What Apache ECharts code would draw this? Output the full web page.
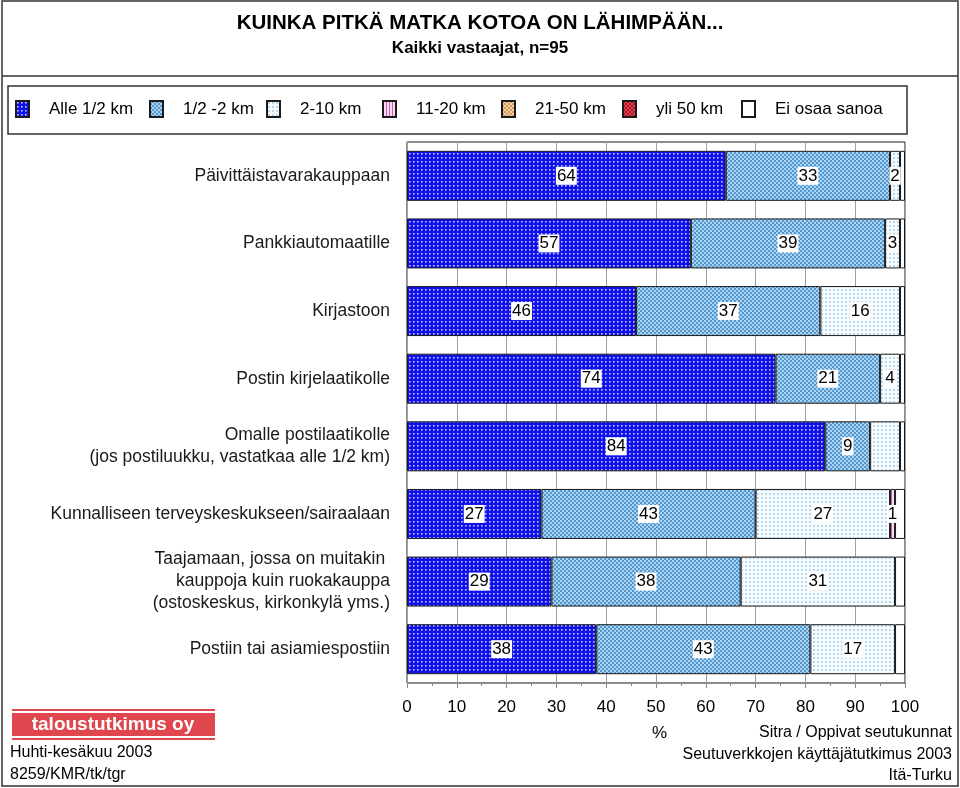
<!DOCTYPE html>
<html><head><meta charset="utf-8">
<script src="https://cdn.jsdelivr.net/npm/echarts@6/dist/echarts.min.js"></script>
<style>html,body{margin:0;padding:0;background:#fff}#c{width:960px;height:788px}</style>
</head><body><div id="c"></div>
<script>
// ---- data ----
const categories = [
  'Päivittäistavarakauppaan',
  'Pankkiautomaatille',
  'Kirjastoon',
  'Postin kirjelaatikolle',
  'Omalle postilaatikolle\n(jos postiluukku, vastatkaa alle 1/2 km)',
  'Kunnalliseen terveyskeskukseen/sairaalaan',
  'Taajamaan, jossa on muitakin \nkauppoja kuin ruokakauppa\n(ostoskeskus, kirkonkylä yms.)',
  'Postiin tai asiamiespostiin'
];
const seriesNames = ['Alle 1/2 km','1/2 -2 km','2-10 km','11-20 km','21-50 km','yli 50 km','Ei osaa sanoa'];
const alle05 = [64, 57, 46, 74, 84, 27, 29, 38];
const km05_2 = [33, 39, 37, 21, 9, 43, 38, 43];
const km2_10 = [2, 3, 16, 4, 6, 27, 31, 17];
const km11_20 = [0, 0, 0, 0, 0, 1, 0, 0];
const km21_50 = [0, 0, 0, 0, 0, 0, 0, 0];
const yli50 = [0, 0, 0, 0, 0, 0, 0, 0];
const eiOsaa = [1, 1, 1, 1, 1, 2, 2, 2];
const unlabeled = [[2, 4]]; // [series index, category index] shown without a value label
const xTicks = [0,10,20,30,40,50,60,70,80,90,100];

// ---- patterns ----
function tile(w, h, draw) {
  const c = document.createElement('canvas'); c.width = w; c.height = h;
  draw(c.getContext('2d')); return {image: c, repeat: 'repeat'};
}
const patterns = [
  tile(4,4,g=>{g.fillStyle='#1010ea';g.fillRect(0,0,4,4);g.fillStyle='#c0c4ff';g.fillRect(1,1,1.6,1.6);}),
  tile(4,4,g=>{g.fillStyle='#5596cc';g.fillRect(0,0,4,4);g.fillStyle='#a9d4f4';g.fillRect(0,0,2,2);g.fillRect(2,2,2,2);}),
  tile(4,4,g=>{g.fillStyle='#f6fbff';g.fillRect(0,0,4,4);g.fillStyle='#b9d6ea';g.fillRect(1,1,2,2);}),
  tile(3,1,g=>{g.fillStyle='#ffd6f4';g.fillRect(0,0,3,1);g.fillStyle='#b46cae';g.fillRect(0,0,1,1);}),
  tile(4,4,g=>{g.fillStyle='#f7d2a2';g.fillRect(0,0,4,4);g.fillStyle='#cf9a62';g.fillRect(0,0,2,2);g.fillRect(2,2,2,2);}),
  tile(4,4,g=>{g.fillStyle='#e8404c';g.fillRect(0,0,4,4);g.fillStyle='#a01828';g.fillRect(0,0,2,2);g.fillRect(2,2,2,2);}),
  '#ffffff'
];
const allData = [alle05, km05_2, km2_10, km11_20, km21_50, yli50, eiOsaa];
const F = 'Liberation Sans, Arial';

const series = allData.map((arr, si) => ({
  name: seriesNames[si],
  type: 'bar',
  stack: 'total',
  barWidth: 50,
  itemStyle: {color: patterns[si], borderColor: '#1a1a1a', borderWidth: 1},
  label: {
    show: si < 6,
    position: 'inside',
    color: '#000',
    fontFamily: F,
    fontSize: 17,
    backgroundColor: '#fff',
    padding: [1, 1, 0, 1]
  },
  data: arr.map((v, ci) => {
    if (!v) return '-';
    const hide = unlabeled.some(p => p[0] === si && p[1] === ci);
    return hide ? {value: v, label: {show: false}} : v;
  })
}));

const legendLeft = [15, 149, 266, 382, 501, 622, 741];
const legends = seriesNames.map((n, i) => ({
  data: [n], left: legendLeft[i], top: 100, padding: 0,
  itemWidth: 13, itemHeight: 16, icon: 'rect',
  textStyle: {fontSize: 17, color: '#000', fontFamily: F, padding: [0, 0, 0, 15]}
}));

const chart = echarts.init(document.getElementById('c'));
chart.setOption({
  animation: false,
  textStyle: {fontFamily: F},
  title: [
    {text: 'KUINKA PITKÄ MATKA KOTOA ON LÄHIMPÄÄN...', left: 'center', top: 8,
     textStyle: {fontSize: 20.5, fontWeight: 'bold', color: '#000', fontFamily: F}},
    {text: 'Kaikki vastaajat, n=95', left: 'center', top: 35,
     textStyle: {fontSize: 17, fontWeight: 'bold', color: '#000', fontFamily: F}}
  ],
  legend: legends,
  grid: {left: 407, right: 55, top: 142, bottom: 105, show: true, borderColor: '#1a1a1a', borderWidth: 1},
  xAxis: {
    type: 'value', min: 0, max: 100, interval: 10,
    axisLine: {show: false},
    axisTick: {show: true, length: 5, lineStyle: {color: '#888'}},
    minorTick: {show: true, splitNumber: 2, length: 3, lineStyle: {color: '#888'}},
    splitLine: {show: true, lineStyle: {color: '#a0a0a0', width: 1}},
    axisLabel: {fontSize: 17, color: '#000', margin: 16, fontFamily: F,
      formatter: v => xTicks.includes(v) ? String(v) : ''}
  },
  yAxis: {
    type: 'category', inverse: true, data: categories,
    axisLine: {show: false}, axisTick: {show: false},
    axisLabel: {fontSize: 17.5, color: '#1a1a1a', margin: 17, lineHeight: 22, fontFamily: F}
  },
  series: series,
  graphic: [
    {type: 'rect', shape: {x: 2, y: 1, width: 956, height: 785}, style: {fill: 'none', stroke: '#333', lineWidth: 1.5}, silent: true},
    {type: 'line', shape: {x1: 2, y1: 76, x2: 958, y2: 76}, style: {stroke: '#333', lineWidth: 1.5}},
    {type: 'rect', shape: {x: 8, y: 86, width: 899, height: 48}, style: {fill: 'none', stroke: '#333', lineWidth: 1.5}},
    {type: 'rect', shape: {x: 12, y: 709, width: 203, height: 2}, style: {fill: '#e0464e'}},
    {type: 'rect', shape: {x: 12, y: 713, width: 203, height: 23}, style: {fill: '#e0464e'}},
    {type: 'rect', shape: {x: 12, y: 738, width: 203, height: 2}, style: {fill: '#e0464e'}},
    {type: 'text', x: 113, y: 725, style: {text: 'taloustutkimus oy', fill: '#fff', font: 'bold 19px Liberation Sans, Arial', textAlign: 'center', textVerticalAlign: 'middle'}},
    {type: 'text', left: 10, top: 745, style: {text: 'Huhti-kesäkuu 2003', fill: '#000', font: '16px Liberation Sans, Arial'}},
    {type: 'text', left: 10, top: 767, style: {text: '8259/KMR/tk/tgr', fill: '#000', font: '16px Liberation Sans, Arial'}},
    {type: 'text', left: 652, top: 725, style: {text: '%', fill: '#000', font: '17px Liberation Sans, Arial'}},
    {type: 'text', right: 8, top: 725, style: {text: 'Sitra / Oppivat seutukunnat', fill: '#000', font: '16px Liberation Sans, Arial'}},
    {type: 'text', right: 8, top: 747, style: {text: 'Seutuverkkojen käyttäjätutkimus 2003', fill: '#000', font: '16px Liberation Sans, Arial'}},
    {type: 'text', right: 8, top: 768, style: {text: 'Itä-Turku', fill: '#000', font: '16px Liberation Sans, Arial'}}
  ]
});
</script></body></html>
